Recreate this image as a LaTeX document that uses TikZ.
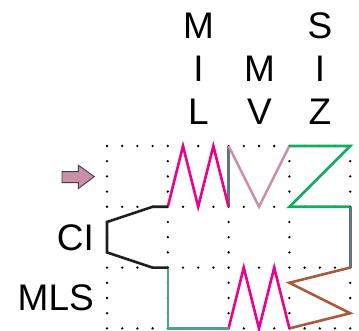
\documentclass[tikz,border=0pt]{standalone}
\usepackage{fontspec}
\setmainfont{Liberation Sans}
\begin{document}
\begin{tikzpicture}[x=1pt,y=-1pt,
  seg/.style={line width=2.6pt,line join=miter},
  lbl/.style={font=\fontsize{37}{37}\selectfont,inner sep=0pt}]
\definecolor{cpink}{HTML}{EC008C}
\definecolor{cmauve}{HTML}{CC90AD}
\definecolor{cslate}{HTML}{5E7580}
\definecolor{cgreen}{HTML}{10AE5E}
\definecolor{cteal}{HTML}{4FA38A}
\definecolor{cbrown}{HTML}{A85A3F}
\definecolor{carrow}{HTML}{C98FAB}
\useasboundingbox (0,0) rectangle (359,331);
\def\cx{107}\def\cy{146}\def\st{15.2}
% dotted grid
\foreach \i in {0,...,16}{
  \foreach \j in {0,...,12}{
    \pgfmathtruncatemacro{\a}{mod(\i,4)}
    \pgfmathtruncatemacro{\b}{mod(\j,4)}
    \ifnum\a=0 \fill (\cx+\i*\st,\cy+\j*\st) circle (1.3);
    \else\ifnum\b=0 \fill (\cx+\i*\st,\cy+\j*\st) circle (1.3);\fi\fi
  }
}
% named vertices
\coordinate (p0) at (\cx+4*\st,\cy+4*\st);
\coordinate (p1) at (\cx+5*\st,\cy);
\coordinate (p2) at (\cx+6*\st,\cy+4*\st);
\coordinate (p3) at (\cx+7*\st,\cy);
\coordinate (p4) at (\cx+8*\st,\cy+4*\st);
\coordinate (q0) at (\cx+8*\st,\cy);
\coordinate (q1) at (\cx+10*\st,\cy+4*\st);
\coordinate (q2) at (\cx+12*\st,\cy);
\coordinate (z1) at (\cx+16*\st,\cy);
\coordinate (z2) at (\cx+12*\st,\cy+4*\st);
\coordinate (z3) at (\cx+16*\st,\cy+4*\st);
\coordinate (g1) at (\cx+16*\st,\cy+8*\st);
\coordinate (b1) at (\cx+12*\st,\cy+9*\st);
\coordinate (b2) at (\cx+16*\st,\cy+11*\st);
\coordinate (b3) at (\cx+12*\st,\cy+12*\st);
\coordinate (w1) at (\cx+11*\st,\cy+8*\st);
\coordinate (w2) at (\cx+10*\st,\cy+12*\st);
\coordinate (w3) at (\cx+9*\st,\cy+8*\st);
\coordinate (w4) at (\cx+8*\st,\cy+12*\st);
\coordinate (t0) at (\cx+4*\st,\cy+8*\st);
\coordinate (t1) at (\cx+4*\st,\cy+12*\st);
\coordinate (c1) at (\cx+3*\st,\cy+4*\st);
\coordinate (c2) at (\cx,\cy+5*\st);
\coordinate (c3) at (\cx,\cy+7*\st);
\coordinate (c4) at (\cx+3*\st,\cy+8*\st);
% coloured lines
\draw[seg,cslate] (q0) -- (p4);
\draw[seg,cpink] (p0) -- (p1) -- (p2) -- (p3) -- (p4);
\draw[seg,cmauve] (q0) -- (q1) -- (q2);
\draw[seg,cgreen] (q2) -- (z1) -- (z2) -- (z3);
\draw[seg,cslate] (z3) -- (g1);
\draw[seg,cbrown] (g1) -- (b1) -- (b2) -- (b3);
\draw[seg,cpink] (b3) -- (w1) -- (w2) -- (w3) -- (w4);
\draw[seg,cteal] (t0) -- (t1) -- (w4);
\draw[seg,black!88] (p0) -- (c1) -- (c2) -- (c3) -- (c4) -- (t0);
% arrow
\draw[fill=carrow,draw=black!75,line width=0.9pt,line join=miter]
  (62,171.7) -- (78.3,171.7) -- (78.3,165.2) -- (94.3,176.6) -- (78.3,188.6)
  -- (78.3,182.6) -- (62,182.6) -- cycle;
% labels
\node[lbl,anchor=base east] (ci) at (94,251) {CI};
\node[lbl,anchor=base east] (mls) at (94,311) {MLS};
\node[lbl,anchor=base] (m1) at (198.5,39) {M};
\node[lbl,anchor=base] (i1) at (198.5,82) {I};
\node[lbl,anchor=base] (l1) at (198.5,125) {L};
\node[lbl,anchor=base] (m2) at (259.5,82) {M};
\node[lbl,anchor=base] (v2) at (259.5,125) {V};
\node[lbl,anchor=base] (s3) at (320,39) {S};
\node[lbl,anchor=base] (i3) at (320,82) {I};
\node[lbl,anchor=base] (z3l) at (320,125) {Z};
\end{tikzpicture}
\end{document}
